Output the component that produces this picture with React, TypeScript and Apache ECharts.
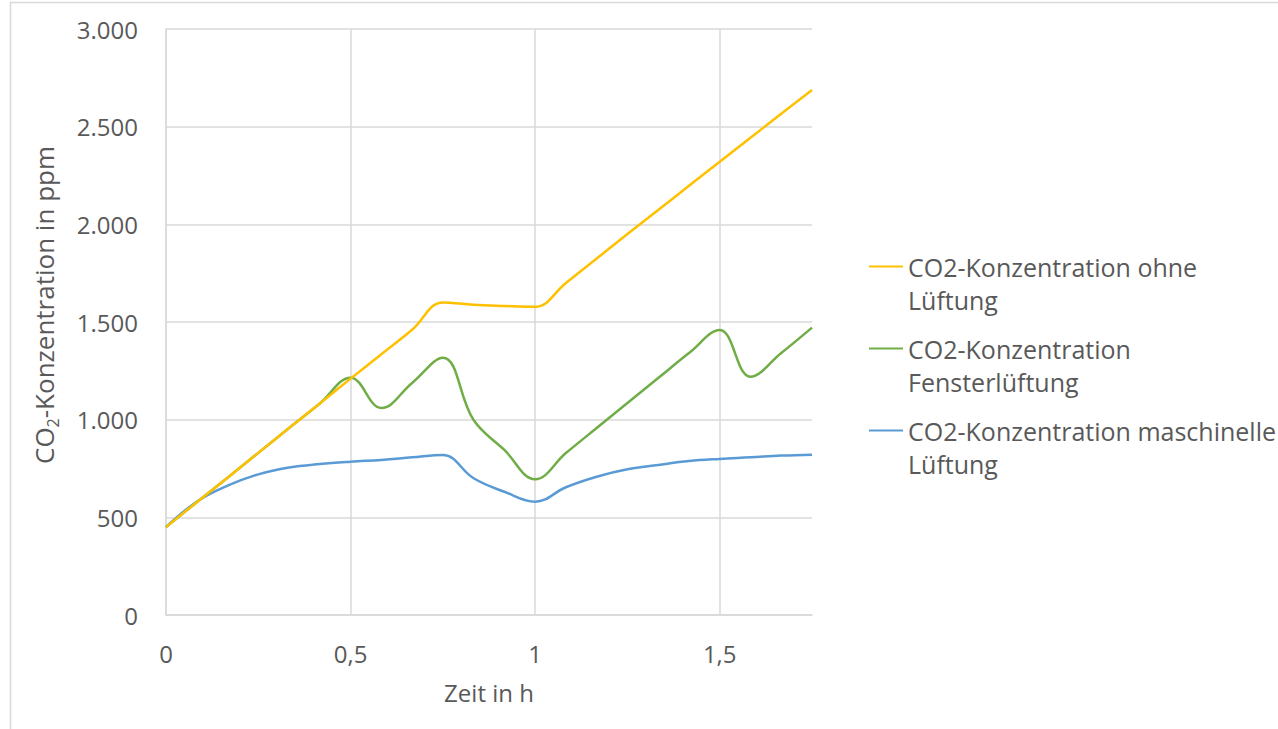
import React, { useEffect, useRef } from "react";
import * as echarts from "echarts";

const times = [0, 0.0833, 0.1667, 0.25, 0.3333, 0.4167, 0.5, 0.5833, 0.6667, 0.75, 0.8333, 0.9167, 1, 1.0833, 1.1667, 1.25, 1.3333, 1.4167, 1.5, 1.5833, 1.6667, 1.75];
const ohneLueftung = [450, 577, 703, 830, 957, 1083, 1210, 1335, 1460, 1600, 1588, 1582, 1578, 1700, 1825, 1950, 2073, 2197, 2320, 2443, 2566, 2688];
const fensterLueftung = [450, 577, 703, 830, 957, 1083, 1215, 1060, 1188, 1317, 998, 845, 695, 829, 957, 1085, 1213, 1341, 1459, 1220, 1341, 1471];
const maschinelleLueftung = [450, 580, 662, 720, 755, 773, 785, 794, 807, 819, 700, 631, 580, 654, 708, 746, 768, 788, 799, 807, 816, 821];

const seriesNames = [
  "CO2-Konzentration ohne Lüftung",
  "CO2-Konzentration Fensterlüftung",
  "CO2-Konzentration maschinelle Lüftung",
];
const legendLines: Record<string, [string, string]> = {
  "CO2-Konzentration ohne Lüftung": ["CO2-Konzentration ohne", "Lüftung"],
  "CO2-Konzentration Fensterlüftung": ["CO2-Konzentration", "Fensterlüftung"],
  "CO2-Konzentration maschinelle Lüftung": ["CO2-Konzentration maschinelle", "Lüftung"],
};
const colors = ["#FFC000", "#70AD47", "#5B9BD5"];

const FONT = "'Open Sans', 'Noto Sans', sans-serif";
const TEXT = "#595959";
const GRID = "#d9d9d9";

function fmtNum(v: number, dec: string): string {
  return String(v).replace(".", dec);
}
function fmtThousands(v: number): string {
  return String(v).replace(/\B(?=(\d{3})+(?!\d))/g, ".");
}

export default function App() {
  const ref = useRef<HTMLDivElement>(null);
  useEffect(() => {
    document.body.style.margin = "0";
    const chart = echarts.init(ref.current!, null, { renderer: "svg" });
    const mk = (arr: number[]) => times.map((t, i) => [t, arr[i]]);
    const data = [ohneLueftung, fensterLueftung, maschinelleLueftung];
    chart.setOption({
      animation: false,
      backgroundColor: "#ffffff",
      textStyle: { fontFamily: FONT },
      graphic: [
        {
          type: "rect",
          shape: { x: 10.5, y: 2.5, width: 1300, height: 800 },
          style: { fill: "none", stroke: GRID, lineWidth: 1.5 },
          silent: true,
        },
      ],
      grid: { left: 166, top: 29, right: 466, bottom: 114, containLabel: false },
      legend: {
        orient: "vertical",
        left: 864,
        top: 216,
        itemWidth: 34,
        itemHeight: 14,
        itemGap: -9,
        icon: "path://M0,6 L36,6 L36,8 L0,8 Z",
        data: seriesNames,
        formatter: (name: string) => {
          const l = legendLines[name];
          return "{e|}\n{t|" + l[0] + "}\n{t|" + l[1] + "}";
        },
        textStyle: {
          color: TEXT,
          fontFamily: FONT,
          fontSize: 25,
          rich: {
            e: { lineHeight: 33, fontSize: 25, fontFamily: FONT },
            t: { lineHeight: 33, fontSize: 25, color: TEXT, fontFamily: FONT },
          },
        },
      },
      xAxis: {
        type: "value",
        min: 0,
        max: 1.75,
        interval: 0.5,
        name: "Zeit in h",
        nameLocation: "middle",
        nameGap: 65,
        nameTextStyle: { color: TEXT, fontSize: 24, fontFamily: FONT },
        axisLine: { show: true, lineStyle: { color: GRID, width: 1.5 } },
        axisTick: { show: false },
        axisLabel: {
          color: TEXT,
          fontSize: 24,
          fontFamily: FONT,
          margin: 26,
          showMaxLabel: false,
          formatter: (v: number) => fmtNum(v, ","),
        },
        splitLine: { show: true, showMaxLine: false, lineStyle: { color: GRID, width: 1.5 } },
      },
      yAxis: {
        type: "value",
        min: 0,
        max: 3000,
        interval: 500,
        name: "{a|CO}{s|2}{a|-Konzentration in ppm}",
        nameLocation: "middle",
        nameGap: 105,
        nameTextStyle: {
          color: TEXT,
          fontFamily: FONT,
          padding: [0, 0, 0, 34],
          rich: {
            a: { fontSize: 26, color: TEXT, fontFamily: FONT, lineHeight: 34 },
            s: { fontSize: 16, color: TEXT, fontFamily: FONT, verticalAlign: "bottom", lineHeight: 28 },
          },
        },
        axisLine: { show: true, lineStyle: { color: GRID, width: 1.5 } },
        axisTick: { show: false },
        axisLabel: {
          color: TEXT,
          fontSize: 24,
          fontFamily: FONT,
          margin: 28,
          formatter: (v: number) => fmtThousands(v),
        },
        splitLine: { show: true, lineStyle: { color: GRID, width: 1.5 } },
      },
      series: seriesNames.map((name, i) => ({
        name,
        type: "line",
        data: mk(data[i]),
        smooth: 0.4,
        symbol: "none",
        showSymbol: false,
        lineStyle: { color: colors[i], width: 2.5 },
        itemStyle: { color: colors[i] },
        z: 3 - i,
      })),
    });
    return () => chart.dispose();
  }, []);
  return <div ref={ref} style={{ width: 1278, height: 729 }} />;
}
